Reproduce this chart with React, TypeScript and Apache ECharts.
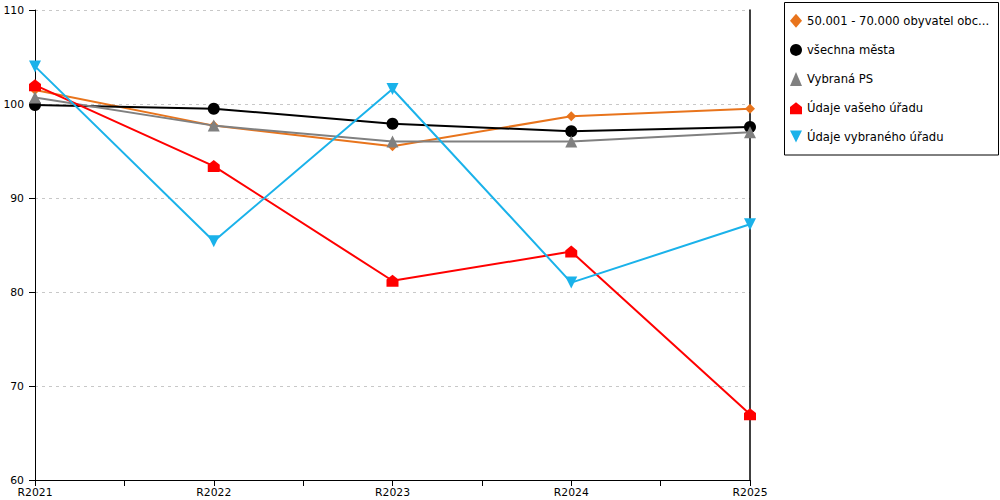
import React, { useEffect, useRef } from "react";
import * as echarts from "echarts";

const categories = ["R2021", "R2022", "R2023", "R2024", "R2025"];
const seriesNames = [
  "50.001 - 70.000 obyvatel obc...",
  "všechna města",
  "Vybraná PS",
  "Údaje vašeho úřadu",
  "Údaje vybraného úřadu",
];
const orangeValues = [101.5, 97.7, 95.5, 98.7, 99.5];
const blackValues = [99.9, 99.5, 97.9, 97.1, 97.55];
const grayValues = [100.7, 97.7, 96.0, 96.0, 97.0];
const redValues = [102.0, 93.4, 81.2, 84.3, 67.0];
const blueValues = [104.0, 85.4, 101.6, 81.0, 87.2];

const colors = ["#e8741c", "#000000", "#808080", "#ff0000", "#1ab2ea"];
const housePath = "path://M0,4 L5,0 L10,4 L10,10 L0,10 Z";
const symbols = ["diamond", "circle", "triangle", housePath, "path://M0,0 L10,0 L5,10 Z"];
const symbolSizes = [10, 12, 12, 12, 12];

const allValues = [orangeValues, blackValues, grayValues, redValues, blueValues];

export default function App() {
  const ref = useRef<HTMLDivElement>(null);
  useEffect(() => {
    if (!ref.current) return;
    const chart = echarts.init(ref.current, undefined, { renderer: "svg" });
    const font = "DejaVu Sans";
    chart.setOption({
      animation: false,
      textStyle: { fontFamily: font },
      grid: { left: 35, right: 250, top: 10, bottom: 20, containLabel: false },
      graphic: [
        {
          type: "rect",
          z: 0,
          shape: { x: 784.5, y: 2.5, width: 214, height: 152.5 },
          style: { fill: "#fff", stroke: "#000", lineWidth: 1 },
        },
      ],
      legend: {
        orient: "vertical",
        left: 784,
        top: 2,
        padding: [11.7, 6, 12, 6],
        itemGap: 16.2,
        itemWidth: 12,
        itemHeight: 14,
        z: 10,
        textStyle: {
          fontFamily: font,
          fontSize: 11.6,
          color: "#000",
        },
        data: seriesNames.map((n, i) => ({ name: n, icon: symbols[i] })),
      },
      xAxis: {
        type: "value",
        min: 0,
        max: categories.length - 1,
        interval: 0.5,
        axisLine: { show: true, lineStyle: { color: "#000", width: 1 } },
        axisTick: { show: true, length: 6, lineStyle: { color: "#000" } },
        axisLabel: {
          color: "#000",
          fontSize: 10.8,
          fontFamily: font,
          margin: 7,
          showMinLabel: true,
          showMaxLabel: true,
          formatter: (v: number) =>
            Number.isInteger(v) ? categories[v] : "",
        },
        splitLine: { show: false },
      },
      yAxis: [
        {
          type: "value",
          min: 60,
          max: 110,
          interval: 10,
          axisLine: { show: true, lineStyle: { color: "#000", width: 1 } },
          axisTick: { show: true, length: 6, lineStyle: { color: "#000" } },
          axisLabel: { color: "#000", fontSize: 10.8, fontFamily: font, margin: 11 },
          splitLine: {
            show: true,
            lineStyle: { color: "#c8c8c8", type: [3, 4], width: 1 },
          },
        },
        {
          type: "value",
          min: 60,
          max: 110,
          interval: 10,
          position: "right",
          axisLine: { show: true, lineStyle: { color: "#000", width: 1.5 } },
          axisTick: { show: false },
          axisLabel: { show: false },
          splitLine: { show: false },
        },
      ],
      series: seriesNames.map((name, i) => ({
        name,
        type: "line",
        yAxisIndex: 0,
        data: allValues[i].map((v, j) => [j, v]),
        symbol: symbols[i],
        symbolSize: symbolSizes[i],
        itemStyle: { color: colors[i] },
        lineStyle: { color: colors[i], width: 2 },
        z: 2 + i,
      })),
    });
    return () => chart.dispose();
  }, []);
  return (
    <div
      ref={ref}
      style={{ position: "absolute", left: 0, top: 0, width: 1000, height: 500 }}
    />
  );
}
